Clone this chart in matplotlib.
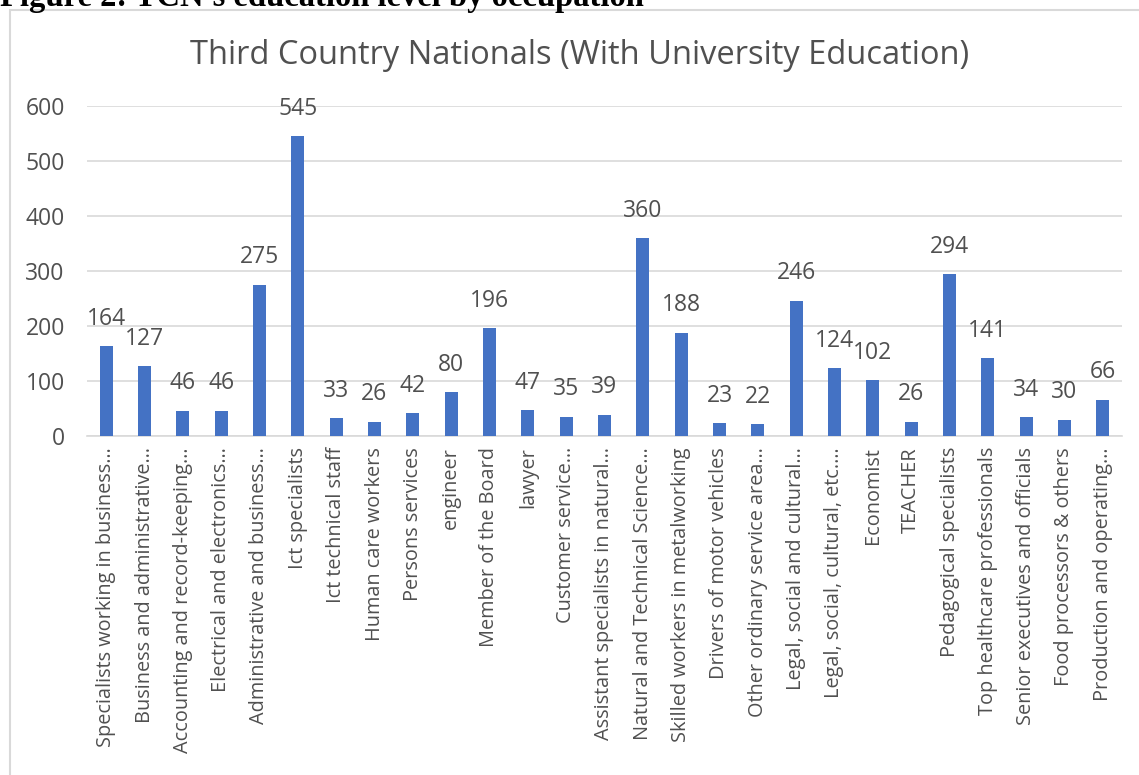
import matplotlib
matplotlib.use("Agg")
import matplotlib.pyplot as plt
from matplotlib.patches import Rectangle

# ── Data ─────────────────────────────────────────────────────────────────────
occupations = [
    "Specialists working in business…",
    "Business and administrative…",
    "Accounting and record-keeping…",
    "Electrical and electronics…",
    "Administrative and business…",
    "Ict specialists",
    "Ict technical staff",
    "Human care workers",
    "Persons services",
    "engineer",
    "Member of the Board",
    "lawyer",
    "Customer service…",
    "Assistant specialists in natural…",
    "Natural and Technical Science…",
    "Skilled workers in metalworking",
    "Drivers of motor vehicles",
    "Other ordinary service area…",
    "Legal, social and cultural…",
    "Legal, social, cultural, etc.…",
    "Economist",
    "TEACHER",
    "Pedagogical specialists",
    "Top healthcare professionals",
    "Senior executives and officials",
    "Food processors & others",
    "Production and operating…",
]
counts = [164, 127, 46, 46, 275, 545, 33, 26, 42, 80, 196, 47, 35, 39,
          360, 188, 23, 22, 246, 124, 102, 26, 294, 141, 34, 30, 66]
y_ticks = [0, 100, 200, 300, 400, 500, 600]

TITLE   = "Third Country Nationals (With University Education)"
CAPTION = "Figure 2: TCN's education level by occupation"

# ── Style ────────────────────────────────────────────────────────────────────
BAR_COLOR  = "#4472C4"
TEXT_COLOR = "#505050"
GRID_COLOR = "#D9D9D9"
W, H = 1139, 775
plt.rcParams["font.family"] = ["Open Sans", "DejaVu Sans"]

fig = plt.figure(figsize=(W / 100, H / 100), dpi=100)

# chart border (partly cut off at the right and bottom, as in the page scan)
fig.patches.append(Rectangle((10 / W, -0.01), 1.0, (H - 10) / H + 0.01,
                             transform=fig.transFigure, fill=False,
                             edgecolor=GRID_COLOR, lw=1.5))

# caption from the page above, only its lower part is visible
fig.text(0.0, (H - 6) / H, CAPTION, family="Liberation Serif", weight="bold",
         fontsize=23.5, va="baseline", ha="left", color="black")

# plot area in pixel coordinates
left, right, top, bottom = 87, 1122, 106, 436
ax = fig.add_axes([left / W, (H - bottom) / H, (right - left) / W, (bottom - top) / H])

x = range(len(occupations))
bars = ax.bar(x, counts, width=0.34, color=BAR_COLOR, zorder=3)
ax.bar_label(bars, padding=11, fontsize=16.5, color=TEXT_COLOR)

ax.set_xlim(-0.5, len(occupations) - 0.5)
ax.set_ylim(0, 600)
ax.set_yticks(y_ticks)
ax.set_xticks(list(x))
ax.set_xticklabels(occupations, rotation=90, fontsize=14.3, color=TEXT_COLOR)
ax.tick_params(axis="y", length=0, pad=16, labelsize=16.5, labelcolor=TEXT_COLOR)
ax.tick_params(axis="x", length=0, pad=8)
ax.grid(axis="y", color=GRID_COLOR, lw=1.2, zorder=0)
for side in ("top", "right", "left"):
    ax.spines[side].set_visible(False)
ax.spines["bottom"].set_color(GRID_COLOR)
ax.spines["bottom"].set_linewidth(1.2)

fig.text(580 / W, (H - 55) / H, TITLE, fontsize=23.5, color=TEXT_COLOR,
         ha="center", va="center")

fig.savefig("out.png", dpi=100, facecolor="white")
